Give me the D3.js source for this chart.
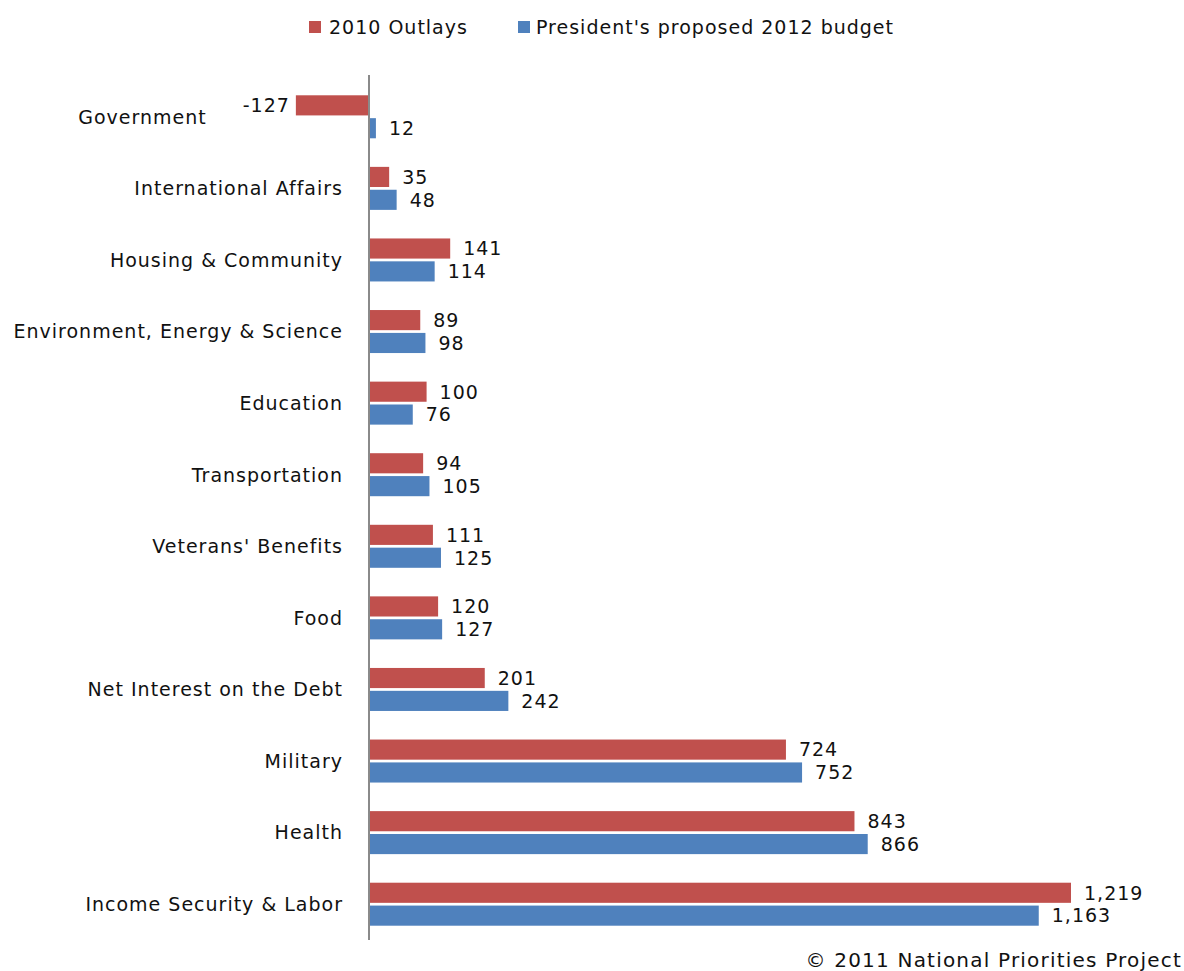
<!DOCTYPE html>
<html>
<head>
<meta charset="utf-8">
<script src="https://cdn.jsdelivr.net/npm/d3@7"></script>
<style>
  html, body { margin: 0; padding: 0; background: #fff; }
  svg text { font-family: "DejaVu Sans", Verdana, sans-serif; fill: #111; }
</style>
</head>
<body>
<svg id="chart" width="1184" height="971"></svg>
<script>
const categories = [
  "Government", "International Affairs", "Housing & Community",
  "Environment, Energy & Science", "Education", "Transportation",
  "Veterans' Benefits", "Food", "Net Interest on the Debt",
  "Military", "Health", "Income Security & Labor"
];
const seriesNames = ["2010 Outlays", "President's proposed 2012 budget"];
const outlays2010 = [-127, 35, 141, 89, 100, 94, 111, 120, 201, 724, 843, 1219];
const budget2012 = [12, 48, 114, 98, 76, 105, 125, 127, 242, 752, 866, 1163];
const colors = ["#C0504D", "#4F81BD"];
const credit = "\u00A9 2011 National Priorities Project";

const svg = d3.select("#chart");
const fontSize = 19, spacing = 1;

const x = d3.scaleLinear().domain([0, 1219]).range([369, 1071]);
const y = d3.scaleBand().domain(categories).range([81, 940]);
const sub = d3.scaleBand().domain(seriesNames).range([-21.5, 21.5]).paddingInner(0.12);

const fmt = v => d3.format(",")(v).replace("\u2212", "-");
const seriesData = [outlays2010, budget2012];

// bars
seriesNames.forEach((s, si) => {
  const vals = seriesData[si];
  svg.append("g").selectAll("rect")
    .data(categories.map((c, i) => ({ c, v: vals[i] })))
    .join("rect")
    .attr("x", d => Math.min(x(0), x(d.v)))
    .attr("width", d => Math.abs(x(d.v) - x(0)))
    .attr("y", d => y(d.c) + y.bandwidth() / 2 + sub(s))
    .attr("height", sub.bandwidth())
    .attr("fill", colors[si]);
});

// axis line
svg.append("line")
  .attr("x1", x(0)).attr("x2", x(0))
  .attr("y1", 75).attr("y2", 940)
  .attr("stroke", "#8a8a8a").attr("stroke-width", 2);

// value labels
const valueLabelLeft = {};
seriesNames.forEach((s, si) => {
  const vals = seriesData[si];
  categories.forEach((c, i) => {
    const v = vals[i];
    const cy = y(c) + y.bandwidth() / 2 + sub(s) + sub.bandwidth() / 2;
    const t = svg.append("text")
      .attr("y", cy)
      .attr("dy", "0.36em")
      .style("font-size", fontSize + "px")
      .style("letter-spacing", spacing + "px")
      .text(fmt(v));
    if (v < 0) {
      t.attr("x", x(v) - 6).attr("text-anchor", "end");
      const w = t.node().getComputedTextLength();
      valueLabelLeft[c] = x(v) - 6 - w;
    } else {
      t.attr("x", x(v) + 13).attr("text-anchor", "start");
    }
  });
});

// category labels
categories.forEach(c => {
  let xr = x(0) - 26;
  if (valueLabelLeft[c] !== undefined) xr = Math.min(xr, valueLabelLeft[c] - 36);
  svg.append("text")
    .attr("x", xr)
    .attr("y", y(c) + y.bandwidth() / 2)
    .attr("dy", "0.36em")
    .attr("text-anchor", "end")
    .style("font-size", fontSize + "px")
    .style("letter-spacing", spacing + "px")
    .text(c);
});

// legend
const legendX = [309, 518];
seriesNames.forEach((s, si) => {
  svg.append("rect")
    .attr("x", legendX[si]).attr("y", 21)
    .attr("width", 12).attr("height", 12)
    .attr("fill", colors[si]);
  svg.append("text")
    .attr("x", legendX[si] + (si === 0 ? 20 : 18))
    .attr("y", 27).attr("dy", "0.36em")
    .style("font-size", fontSize + "px")
    .style("letter-spacing", spacing + "px")
    .text(s);
});

// credit
svg.append("text")
  .attr("x", 1182).attr("y", 960).attr("dy", "0.36em")
  .attr("text-anchor", "end")
  .style("font-size", "20px")
  .style("letter-spacing", "1.2px")
  .text(credit);
</script>
</body>
</html>
